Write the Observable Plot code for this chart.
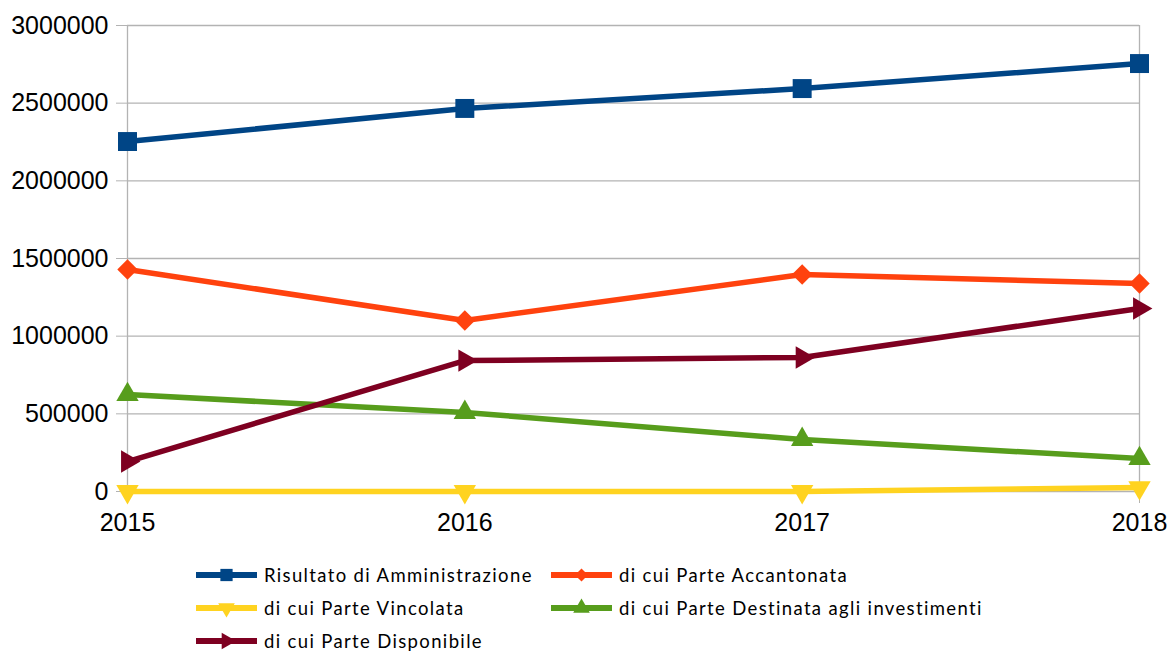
<!DOCTYPE html>
<html>
<head>
<meta charset="utf-8">
<script src="https://cdn.jsdelivr.net/npm/d3@7"></script>
<script src="https://cdn.jsdelivr.net/npm/@observablehq/plot@0.6"></script>
<style>
  html, body { margin: 0; padding: 0; background: #fff; }
  #chart { position: relative; width: 1167px; height: 651px; }
  #legend { position: absolute; left: 196px; top: 558.5px; display: grid;
    grid-template-columns: 355px 470px; grid-auto-rows: 33px;
    font-family: Lato, "Open Sans", sans-serif; font-size: 18.5px; color: #000; letter-spacing: 1.35px; }
  .item { display: flex; align-items: center; height: 33px; white-space: nowrap; }
  .item svg { margin-right: 7px; flex: none; }
</style>
</head>
<body>
<div id="chart"></div>
<script>
const years = [2015, 2016, 2017, 2018];
const seriesNames = [
  "Risultato di Amministrazione",
  "di cui Parte Accantonata",
  "di cui Parte Vincolata",
  "di cui Parte Destinata agli investimenti",
  "di cui Parte Disponibile"
];
const risultato   = [2253000, 2466000, 2594000, 2755000];
const accantonata = [1429000, 1101000, 1397000, 1339000];
const vincolata   = [0, 0, 0, 25000];
const destinata   = [624000, 509000, 335000, 212000];
const disponibile = [193000, 843000, 863000, 1178000];
const yTicks = [0, 500000, 1000000, 1500000, 2000000, 2500000, 3000000];

const seriesValues = [risultato, accantonata, vincolata, destinata, disponibile];
const colors  = ["#004586", "#ff420e", "#ffd320", "#579d1c", "#7e0021"];
const symbols = ["square", "diamond2", "triangle", "triangle", "triangle"];
const rotations = [0, 0, 180, 0, 90];
const radii = [10.7, 9.2, 8.3, 8.3, 8.3];

const data = [];
seriesNames.forEach((s, i) => years.forEach((y, j) =>
  data.push({series: s, year: y, value: seriesValues[i][j], idx: i})));

const plot = Plot.plot({
  width: 1167, height: 550,
  marginLeft: 127, marginRight: 28, marginTop: 25, marginBottom: 59,
  style: {fontFamily: "'Liberation Sans', Arial, sans-serif", fontSize: "25px", background: "#fff"},
  x: {domain: [2015, 2018]},
  y: {domain: [0, 3000000]},
  marks: [
    Plot.gridY(yTicks, {stroke: "#b3b3b3", strokeOpacity: 1, strokeWidth: 1.3}),
    Plot.ruleX([2015, 2018], {stroke: "#b3b3b3", strokeWidth: 1.3}),
    Plot.axisY(yTicks, {tickFormat: d => String(d), tickSize: 11, tickPadding: 8,
      stroke: "#b3b3b3", fill: "#000", fontSize: 25, label: null}),
    Plot.axisX(years, {tickFormat: d => String(d), tickSize: 12, tickPadding: 10,
      stroke: "#b3b3b3", fill: "#000", fontSize: 25, label: null}),
    Plot.line(data, {x: "year", y: "value", z: "series",
      stroke: d => colors[d.idx], strokeWidth: 5.5, strokeLinejoin: "round"}),
    ...seriesNames.map((s, i) => Plot.dot(data.filter(d => d.idx === i), {
      x: "year", y: "value", symbol: symbols[i], r: radii[i], rotate: rotations[i],
      fill: colors[i], stroke: "none"}))
  ]
});
const chart = document.getElementById("chart");
chart.appendChild(plot);

// Legend
const legend = document.createElement("div");
legend.id = "legend";
const symMap = {square: d3.symbolSquare, diamond2: d3.symbolDiamond2, triangle: d3.symbolTriangle};
const legendSizes = [150, 110, 120, 120, 120];
seriesNames.forEach((s, i) => {
  const item = document.createElement("div");
  item.className = "item";
  const svg = d3.create("svg").attr("width", 61).attr("height", 20);
  svg.append("line").attr("x1", 0).attr("x2", 61).attr("y1", 10).attr("y2", 10)
    .attr("stroke", colors[i]).attr("stroke-width", 6);
  svg.append("path").attr("d", d3.symbol(symMap[symbols[i]], legendSizes[i])())
    .attr("transform", `translate(30.5,10) rotate(${rotations[i]})`)
    .attr("fill", colors[i]);
  item.appendChild(svg.node());
  const t = document.createElement("span");
  t.textContent = s;
  item.appendChild(t);
  legend.appendChild(item);
});
chart.appendChild(legend);
</script>
</body>
</html>
